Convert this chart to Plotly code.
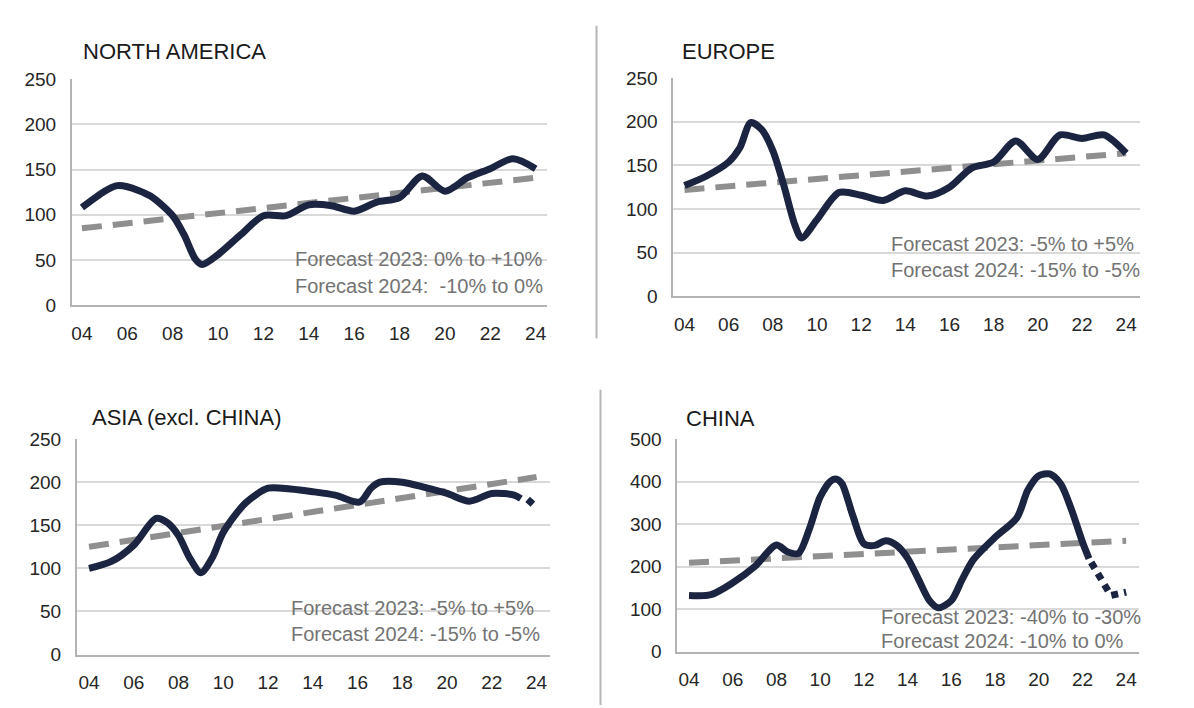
import plotly.graph_objects as go

# ---------------- data ----------------
tick_years = list(range(2004, 2025, 2))
tick_text = ["04", "06", "08", "10", "12", "14", "16", "18", "20", "22", "24"]

na_years = [2004, 2005, 2005.5, 2006, 2007, 2008, 2008.5, 2009, 2009.3, 2010, 2011, 2012, 2013,
            2014, 2015, 2016, 2017, 2018, 2019, 2020, 2021, 2022, 2023, 2024]
na_vals = [108, 126, 132, 131, 121, 99, 78, 51, 45, 56, 78, 99, 99,
           111, 110, 104, 114, 119, 143, 126, 141, 151, 162, 151]
na_trend_years = [2004, 2024]
na_trend = [85, 141]

eu_years = [2004, 2005, 2006, 2006.5, 2007, 2007.5, 2008, 2008.5, 2009, 2009.3, 2010, 2011, 2012,
            2013, 2014, 2015, 2016, 2017, 2018, 2019, 2020, 2021, 2022, 2023, 2024]
eu_vals = [127, 138, 154, 170, 199, 191, 167, 127, 82, 67, 88, 119, 116,
           110, 121, 115, 125, 147, 154, 178, 157, 185, 181, 185, 164]
eu_trend_years = [2004, 2024]
eu_trend = [122, 164]

as_years = [2004, 2005, 2006, 2007, 2007.5, 2008, 2008.5, 2009, 2009.5, 2010, 2011, 2012, 2013,
            2014, 2015, 2016.1, 2016.6, 2017, 2018, 2019, 2020, 2021, 2022, 2023, 2023.3]
as_vals = [100, 108, 127, 158, 153, 138, 112, 95, 112, 142, 176, 193, 192,
           189, 185, 177, 193, 200, 200, 194, 187, 178, 187, 185, 181]
as_fc_years = [2023.6, 2023.95]
as_fc_vals = [180, 172]
as_trend_years = [2004, 2024]
as_trend = [125, 206]

cn_years = [2004, 2005, 2006, 2007, 2008, 2008.5, 2009, 2009.5, 2010, 2010.5, 2010.75, 2011, 2011.5,
            2012, 2012.5, 2013, 2013.5, 2014, 2014.5, 2015, 2015.4, 2016, 2016.5, 2017, 2018,
            2019, 2019.5, 2020, 2020.5, 2021, 2021.5, 2022, 2022.3]
cn_vals = [132, 134, 162, 200, 251, 235, 231, 288, 364, 402, 406, 395, 319,
           254, 250, 261, 250, 220, 170, 120, 103, 120, 170, 216, 269,
           315, 380, 414, 418, 395, 334, 258, 219]
cn_fc_years = [2022.4, 2023.3, 2024]
cn_fc_vals = [210, 132, 140]
cn_trend_years = [2004, 2024]
cn_trend = [209, 261]

titles = ["NORTH AMERICA", "EUROPE", "ASIA (excl. CHINA)", "CHINA"]
forecast_2023 = ["Forecast 2023: 0% to +10%", "Forecast 2023: -5% to +5%",
                 "Forecast 2023: -5% to +5%", "Forecast 2023: -40% to -30%"]
forecast_2024 = ["Forecast 2024:  -10% to 0%", "Forecast 2024: -15% to -5%",
                 "Forecast 2024: -15% to -5%", "Forecast 2024: -10% to 0%"]

# ---------------- layout geometry (pixels) ----------------
W, H = 1194, 708
NAVY = "#1b2440"
TREND = "#8f8f8f"
GRID = "#d9d9d9"
AXIS = "#b3b3b3"
TXT = "#262626"
FC = "#737373"
FONT = "Liberation Sans, Arial"

panels = [
    dict(l=63, r=538, t=63, b=296, xr=[2003.56, 2024.48], ymax=250, dt=50,
         tx=72, ty=35, fx=284, fy=[248, 276]),
    dict(l=665, r=1132, t=62, b=287, xr=[2003.5, 2024.63], ymax=250, dt=50,
         tx=672, ty=35, fx=881, fy=[233, 260]),
    dict(l=68, r=541, t=434, b=656, xr=[2003.46, 2024.58], ymax=250, dt=50,
         tx=81, ty=412, fx=280, fy=[608, 635]),
    dict(l=669, r=1131, t=434, b=653, xr=[2003.47, 2024.59], ymax=500, dt=100,
         tx=676, ty=413, fx=871, fy=[617, 642]),
]

series = [
    (na_years, na_vals, None, None, na_trend_years, na_trend),
    (eu_years, eu_vals, None, None, eu_trend_years, eu_trend),
    (as_years, as_vals, as_fc_years, as_fc_vals, as_trend_years, as_trend),
    (cn_years, cn_vals, cn_fc_years, cn_fc_vals, cn_trend_years, cn_trend),
]

fig = go.Figure()
annotations = []
shapes = []

for i, (p, s) in enumerate(zip(panels, series)):
    n = "" if i == 0 else str(i + 1)
    xa, ya = "x" + n, "y" + n
    yrs, vals, fyrs, fvals, tyrs, tvals = s
    fig.add_trace(go.Scatter(x=tyrs, y=tvals, mode="lines", xaxis=xa, yaxis=ya,
                             line=dict(color=TREND, width=6, dash="20px,11px"),
                             showlegend=False, hoverinfo="skip"))
    fig.add_trace(go.Scatter(x=yrs, y=vals, mode="lines", xaxis=xa, yaxis=ya,
                             line=dict(color=NAVY, width=7, shape="spline", smoothing=0.8),
                             showlegend=False))
    if fyrs is not None:
        fig.add_trace(go.Scatter(x=fyrs, y=fvals, mode="lines", xaxis=xa, yaxis=ya,
                                 line=dict(color=NAVY, width=7, dash="7px,6px"),
                                 showlegend=False))
    xd = [p["l"] / W, p["r"] / W]
    yd = [1 - p["b"] / H, 1 - p["t"] / H]
    fig.layout["xaxis" + n] = dict(
        domain=xd, range=p["xr"], anchor=ya, tickmode="array", tickvals=tick_years,
        ticktext=tick_text, showgrid=False, zeroline=False, showline=True,
        linecolor=AXIS, linewidth=2, ticks="", ticklabelstandoff=10,
        tickfont=dict(family=FONT, size=19, color=TXT), fixedrange=True)
    fig.layout["yaxis" + n] = dict(
        domain=yd, range=[0, p["ymax"]], anchor=xa, dtick=p["dt"], tick0=0,
        showgrid=True, gridcolor=GRID, gridwidth=1.5, zeroline=False, showline=True,
        linecolor=AXIS, linewidth=2, ticks="", ticklabelstandoff=10,
        tickfont=dict(family=FONT, size=19, color=TXT), fixedrange=True)
    annotations.append(dict(text=titles[i], xref="paper", yref="paper",
                            x=p["tx"] / W, y=1 - p["ty"] / H, xanchor="left", yanchor="middle",
                            showarrow=False, font=dict(family=FONT, size=22, color="#1a1a1a")))
    for txt, fy in zip([forecast_2023[i], forecast_2024[i]], p["fy"]):
        annotations.append(dict(text=txt, xref="paper", yref="paper",
                                x=p["fx"] / W, y=1 - fy / H, xanchor="left", yanchor="middle",
                                showarrow=False,
                                font=dict(family=FONT, size=20, color=FC)))

# separators
shapes.append(dict(type="line", xref="paper", yref="paper", x0=588 / W, x1=588 / W,
                   y0=1 - 8 / H, y1=1 - 330 / H, line=dict(color="#b5b5b5", width=2)))
shapes.append(dict(type="line", xref="paper", yref="paper", x0=592 / W, x1=592 / W,
                   y0=1 - 383 / H, y1=0, line=dict(color="#b5b5b5", width=2)))

fig.update_layout(width=W, height=H, margin=dict(l=0, r=0, t=0, b=0),
                  paper_bgcolor="white", plot_bgcolor="white",
                  annotations=annotations, shapes=shapes, showlegend=False,
                  font=dict(family=FONT))
fig.write_html("out.html")
